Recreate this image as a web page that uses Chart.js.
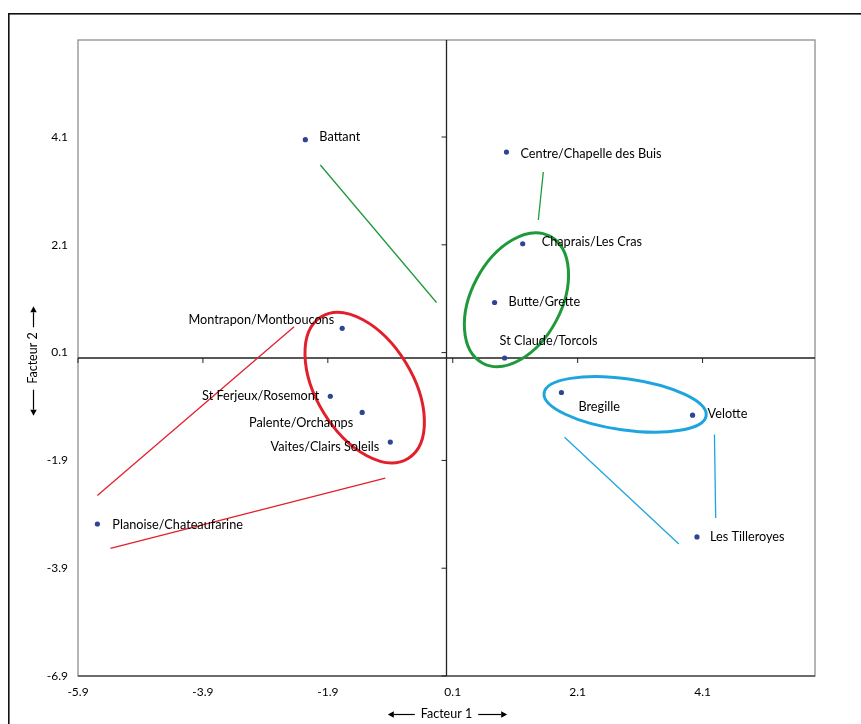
<!DOCTYPE html>
<html><head><meta charset="utf-8">
<script src="https://cdn.jsdelivr.net/npm/chart.js@4.4.0/dist/chart.umd.min.js"></script>
<style>html,body{margin:0;padding:0;background:#fff}canvas{display:block}</style>
</head><body>
<canvas id="c" width="861" height="724"></canvas>
<script>
// ---- data ----
const names = ['Battant','Centre/Chapelle des Buis','Chaprais/Les Cras','Butte/Grette','St Claude/Torcols',
  'Montrapon/Montboucons','St Ferjeux/Rosemont','Palente/Orchamps','Vaites/Clairs Soleils',
  'Planoise/Chateaufarine','Bregille','Velotte','Les Tilleroyes'];
const factor1 = [-2.26, 0.96, 1.22, 0.77, 0.93, -1.67, -1.86, -1.35, -0.90, -5.59, 1.84, 3.94, 4.01];
const factor2 = [ 4.05, 3.82, 2.12, 1.03, 0.00,  0.55, -0.71, -1.01, -1.56, -3.08, -0.64, -1.06, -3.32];

const xTickValues = [-5.9, -3.9, -1.9, 0.1, 2.1, 4.1];
const xTickLabels = ['-5.9', '-3.9', '-1.9', '0.1', '2.1', '4.1'];
const yTickValues = [4.1, 2.1, 0.1, -1.9, -3.9, -5.9];
const yTickLabels = ['4.1', '2.1', '0.1', '-1.9', '-3.9', '-6.9'];

// annotation segments (data coordinates)
const redSegment1   = [[-2.44, 0.58], [-5.59, -2.55]];
const redSegment2   = [[-5.38, -3.53], [-0.98, -2.23]];
const greenSegment1 = [[-2.02, 3.58], [-0.16, 1.03]];
const greenSegment2 = [[1.55, 3.45], [1.47, 2.56]];
const blueSegment1  = [[1.89, -1.47], [3.72, -3.45]];
const blueSegment2  = [[4.29, -1.42], [4.31, -2.97]];

// group ellipses: centre (data), semi-axes (x-axis units), rotation (deg)
const ellipseCentres = [[-1.31, -0.55], [1.12, 1.08], [2.86, -0.86]];
const ellipseRadii   = [[1.33, 0.77], [1.15, 0.72], [1.31, 0.41]];
const ellipseAngles  = [58.5, -62, 8];

// ---- styles / layout ----
const RED = '#e2202c', GREEN = '#1f9a3b', BLUE = '#1ea5df';
const ellipseColours = [RED, GREEN, BLUE];
const FONT = 'Lato, "Open Sans", "DejaVu Sans", sans-serif';
// label placement relative to the point (px): dx, dy, align
const labelPlacement = [
  [14,-3,'left'], [14,2,'left'], [19,-2,'left'], [14,-1,'left'], [-5,-17,'left'],
  [-8,-8,'right'], [-11,0,'right'], [-9,10,'right'], [-11,5,'right'],
  [15,1,'left'], [17,14,'left'], [15,-1,'left'], [13,0,'left']
];

const segments = [
  [redSegment1, RED], [redSegment2, RED], [greenSegment1, GREEN],
  [greenSegment2, GREEN], [blueSegment1, BLUE], [blueSegment2, BLUE]
];

function arrow(ctx, x1, y1, x2, y2) {
  const ang = Math.atan2(y2 - y1, x2 - x1);
  const hl = 6, hw = 3.2;
  const bx = x2 - hl * Math.cos(ang), by = y2 - hl * Math.sin(ang);
  ctx.beginPath(); ctx.moveTo(x1, y1); ctx.lineTo(bx, by); ctx.stroke();
  ctx.beginPath();
  ctx.moveTo(x2, y2);
  ctx.lineTo(bx + hw * Math.sin(ang), by - hw * Math.cos(ang));
  ctx.lineTo(bx - hw * Math.sin(ang), by + hw * Math.cos(ang));
  ctx.closePath(); ctx.fill();
}

const decor = {
  id: 'decor',
  beforeDraw(chart) {
    const { ctx } = chart;
    ctx.save();
    ctx.fillStyle = '#111';
    ctx.fillRect(8, 13, chart.width - 8, 1.6);
    ctx.fillRect(8, 13, 1.6, chart.height - 13);
    ctx.restore();
  },
  beforeDatasetsDraw(chart) {
    const { ctx, chartArea: a, scales: { x, y } } = chart;
    ctx.save();
    ctx.strokeStyle = '#8e8e8e'; ctx.lineWidth = 1.3;
    ctx.strokeRect(a.left, a.top, a.width, a.height);
    ctx.strokeStyle = '#555'; ctx.lineWidth = 1.5;
    ctx.beginPath(); ctx.moveTo(a.left, a.bottom); ctx.lineTo(a.right, a.bottom); ctx.stroke();
    const x0 = x.getPixelForValue(0), y0 = y.getPixelForValue(0);
    ctx.strokeStyle = '#222'; ctx.lineWidth = 1.3;
    ctx.beginPath();
    ctx.moveTo(x0, a.top); ctx.lineTo(x0, a.bottom);
    ctx.moveTo(a.left, y0); ctx.lineTo(a.right, y0);
    ctx.stroke();
    ctx.lineWidth = 1;
    ctx.beginPath();
    xTickValues.forEach(v => { const px = x.getPixelForValue(v); ctx.moveTo(px, y0); ctx.lineTo(px, y0 + 5); });
    yTickValues.forEach(v => { const py = y.getPixelForValue(v); ctx.moveTo(x0 - 5, py); ctx.lineTo(x0, py); });
    ctx.stroke();
    ctx.lineWidth = 3;
    ellipseCentres.forEach((c, i) => {
      const cx = x.getPixelForValue(c[0]), cy = y.getPixelForValue(c[1]);
      const rx = Math.abs(x.getPixelForValue(c[0] + ellipseRadii[i][0]) - cx);
      const ry = Math.abs(x.getPixelForValue(c[0] + ellipseRadii[i][1]) - cx);
      ctx.strokeStyle = ellipseColours[i];
      ctx.beginPath();
      ctx.ellipse(cx, cy, rx, ry, ellipseAngles[i] * Math.PI / 180, 0, Math.PI * 2);
      ctx.stroke();
    });
    ctx.restore();
  },
  afterDatasetsDraw(chart) {
    const { ctx } = chart;
    const meta = chart.getDatasetMeta(0);
    ctx.save();
    ctx.font = '12.7px ' + FONT;
    ctx.fillStyle = '#000';
    ctx.textBaseline = 'middle';
    meta.data.forEach((el, i) => {
      const [dx, dy, al] = labelPlacement[i];
      ctx.textAlign = al;
      ctx.fillText(names[i], el.x + dx, el.y + dy);
    });
    ctx.restore();
  },
  afterDraw(chart) {
    const { ctx, chartArea: a } = chart;
    ctx.save();
    ctx.font = '12.5px ' + FONT;
    ctx.strokeStyle = '#000'; ctx.fillStyle = '#000'; ctx.lineWidth = 1.2;
    const xs = chart.scales.x, ys = chart.scales.y;
    const w1 = ctx.measureText(xs.options.title.text).width;
    const cx = (a.left + a.right) / 2, cy = 724 - (15 / 2 + 3);
    arrow(ctx, cx - w1 / 2 - 6, cy + 1, cx - w1 / 2 - 33, cy + 1);
    arrow(ctx, cx + w1 / 2 + 6, cy + 1, cx + w1 / 2 + 35, cy + 1);
    const w2 = ctx.measureText(ys.options.title.text).width;
    const tx = ys.left + 15 / 2 + 17 + 1, ty = (a.top + a.bottom) / 2;
    arrow(ctx, tx, ty - w2 / 2 - 5, tx, ty - w2 / 2 - 26);
    arrow(ctx, tx, ty + w2 / 2 + 6, tx, ty + w2 / 2 + 32);
    ctx.restore();
  }
};

new Chart(document.getElementById('c'), {
  type: 'scatter',
  data: {
    datasets: [
      {
        label: 'Quartiers',
        data: names.map((n, i) => ({ x: factor1[i], y: factor2[i] })),
        pointRadius: 2.6, pointHoverRadius: 2.6,
        pointBackgroundColor: '#2e4495', pointBorderWidth: 0,
        order: 0
      },
      ...segments.map(([seg, col]) => ({
        label: 'seg',
        data: seg.map(p => ({ x: p[0], y: p[1] })),
        showLine: true, borderColor: col, borderWidth: 1.3,
        pointRadius: 0, pointHoverRadius: 0, fill: false, order: 1
      }))
    ]
  },
  options: {
    responsive: false, animation: false,
    layout: { padding: { left: 8, right: 46, top: 40, bottom: 0 } },
    plugins: { legend: { display: false }, tooltip: { enabled: false } },
    scales: {
      x: {
        type: 'linear', min: -5.9, max: 5.9,
        afterBuildTicks: s => { s.ticks = xTickValues.map(v => ({ value: v })); },
        afterFit: s => { s.height = 48; },
        grid: { display: false, drawTicks: false },
        border: { display: false },
        ticks: {
          autoSkip: false, maxRotation: 0, padding: 9, color: '#000',
          font: { family: FONT, size: 12 },
          callback: v => { const i = xTickValues.indexOf(v); return i >= 0 ? xTickLabels[i] : ''; }
        },
        title: { display: true, text: 'Facteur 1', color: '#000', padding: { top: 0, bottom: 3 }, font: { family: FONT, size: 12.5 } }
      },
      y: {
        type: 'linear', min: -5.9, max: 5.9,
        afterBuildTicks: s => { s.ticks = yTickValues.map(v => ({ value: v })); },
        afterFit: s => { s.width = 70; },
        grid: { display: false, drawTicks: false },
        border: { display: false },
        ticks: {
          autoSkip: false, padding: 10, color: '#000',
          font: { family: FONT, size: 12 },
          callback: v => { const i = yTickValues.indexOf(v); return i >= 0 ? yTickLabels[i] : ''; }
        },
        title: { display: true, text: 'Facteur 2', color: '#000', padding: { top: 17, bottom: 0 }, font: { family: FONT, size: 12.5 } }
      }
    }
  },
  plugins: [decor]
});
</script>
</body></html>
